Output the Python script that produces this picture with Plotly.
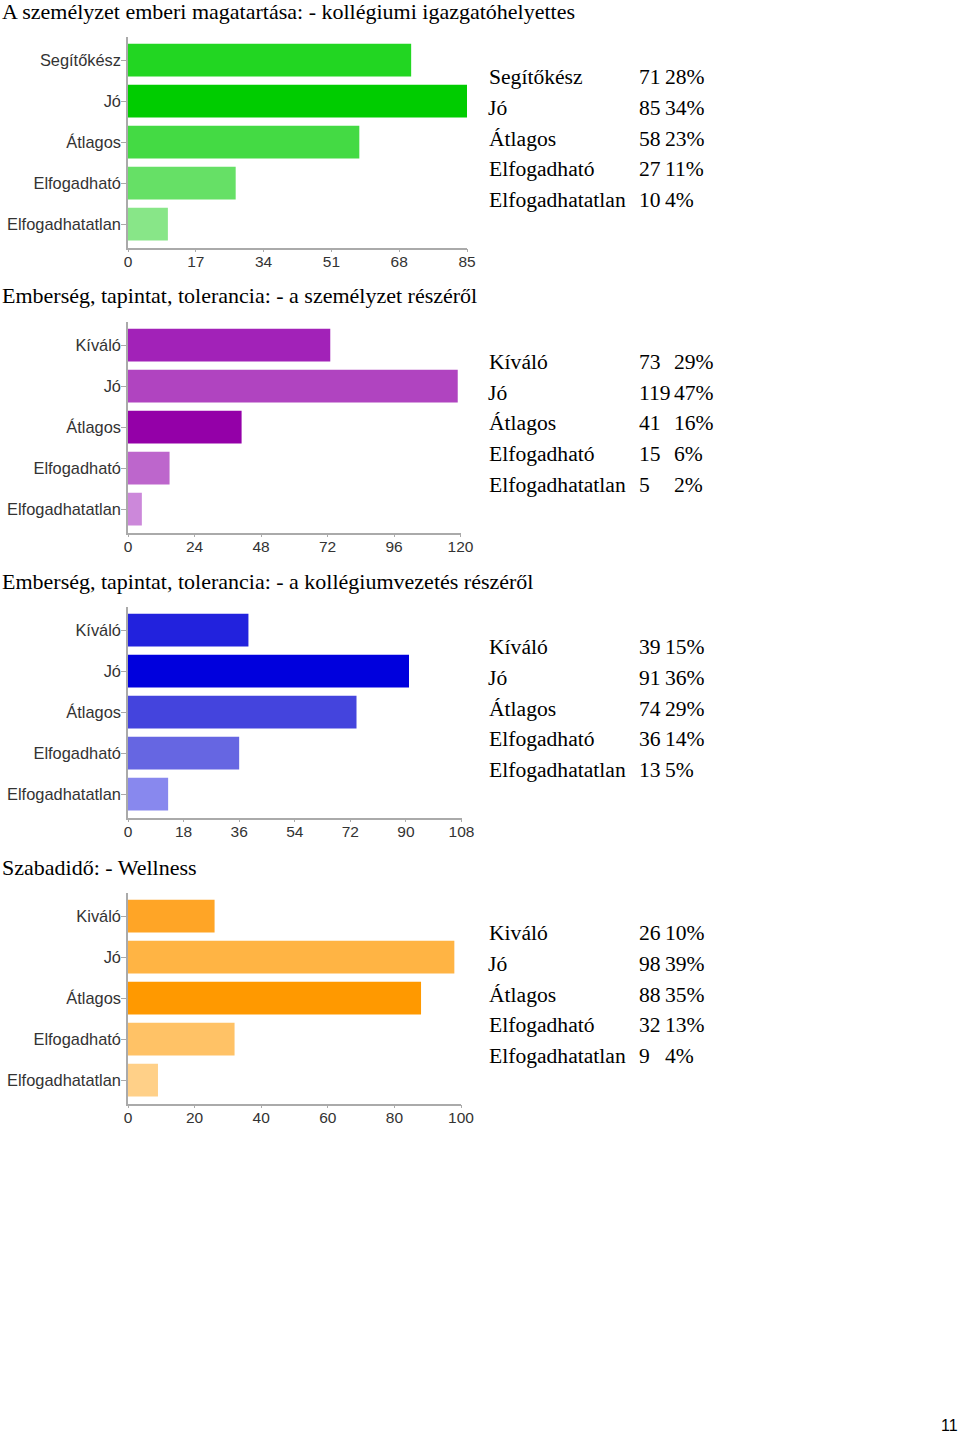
import plotly.graph_objects as go

W, H = 960, 1433

# ---------------- data ----------------
titles = [
    "A személyzet emberi magatartása: - kollégiumi igazgatóhelyettes",
    "Emberség, tapintat, tolerancia: - a személyzet részéről",
    "Emberség, tapintat, tolerancia: - a kollégiumvezetés részéről",
    "Szabadidő: - Wellness",
]
cats1 = ["Segítőkész", "Jó", "Átlagos", "Elfogadható", "Elfogadhatatlan"]
cats2 = ["Kíváló", "Jó", "Átlagos", "Elfogadható", "Elfogadhatatlan"]
cats3 = ["Kíváló", "Jó", "Átlagos", "Elfogadható", "Elfogadhatatlan"]
cats4 = ["Kiváló", "Jó", "Átlagos", "Elfogadható", "Elfogadhatatlan"]

vals1 = [71, 85, 58, 27, 10]
vals2 = [73, 119, 41, 15, 5]
vals3 = [39, 91, 74, 36, 13]
vals4 = [26, 98, 88, 32, 9]

pct1 = ["28%", "34%", "23%", "11%", "4%"]
pct2 = ["29%", "47%", "16%", "6%", "2%"]
pct3 = ["15%", "36%", "29%", "14%", "5%"]
pct4 = ["10%", "39%", "35%", "13%", "4%"]

ticks1 = [0, 17, 34, 51, 68, 85]
ticks2 = [0, 24, 48, 72, 96, 120]
ticks3 = [0, 18, 36, 54, 72, 90, 108]
ticks4 = [0, 20, 40, 60, 80, 100]

page_number = "11"

# ---------------- style ----------------
colors1 = ["#22d622", "#00cc00", "#44da44", "#66e066", "#88e688"]
colors2 = ["#a222b8", "#b044c0", "#9400a8", "#bd66cc", "#cc88da"]
colors3 = ["#2222dd", "#0000dd", "#4444dd", "#6666e2", "#8888ee"]
colors4 = ["#ffa526", "#ffb444", "#ff9900", "#ffc266", "#ffd088"]

panels = [
    dict(cats=cats1, vals=vals1, pct=pct1, ticks=ticks1, colors=colors1, off=0, xend=467, pctx=666),
    dict(cats=cats2, vals=vals2, pct=pct2, ticks=ticks2, colors=colors2, off=285, xend=460.5, pctx=675),
    dict(cats=cats3, vals=vals3, pct=pct3, ticks=ticks3, colors=colors3, off=570, xend=461.5, pctx=666),
    dict(cats=cats4, vals=vals4, pct=pct4, ticks=ticks4, colors=colors4, off=856, xend=461, pctx=666),
]

sans = "Liberation Sans, Arial, sans-serif"
serif = "Liberation Serif, Times New Roman, serif"

fig = go.Figure()
annotations = []
layout_axes = {}
pad_cat = 3 / 41.0

for i, p in enumerate(panels):
    n = i + 1
    xa = "x" if n == 1 else f"x{n}"
    ya = "y" if n == 1 else f"y{n}"
    fig.add_trace(go.Bar(
        x=p["vals"], y=p["cats"], orientation="h",
        marker=dict(color=p["colors"], line=dict(width=0)),
        xaxis=xa, yaxis=ya, showlegend=False, hoverinfo="x+y",
    ))
    off = p["off"]
    top = off + 36.7
    bot = off + 247.5
    layout_axes["xaxis" if n == 1 else f"xaxis{n}"] = dict(
        domain=[128 / W, p["xend"] / W],
        range=[0, p["ticks"][-1]],
        anchor=ya,
        tickmode="array", tickvals=p["ticks"],
        ticks="outside", ticklen=3, tickcolor="#aaaaaa",
        ticklabelstandoff=-4,
        showline=True, linecolor="#aaaaaa", linewidth=1.5,
        showgrid=False, zeroline=False, automargin=False,
        tickfont=dict(family=sans, size=15.5, color="#333333"),
        fixedrange=True,
    )
    layout_axes["yaxis" if n == 1 else f"yaxis{n}"] = dict(
        domain=[1 - bot / H, 1 - top / H],
        anchor=xa,
        type="category",
        categoryorder="array", categoryarray=p["cats"],
        range=[len(p["cats"]) - 0.5 + pad_cat, -0.5 - pad_cat],
        ticks="outside", ticklen=5, tickcolor="#aaaaaa",
        ticklabelstandoff=-3,
        showline=True, linecolor="#aaaaaa", linewidth=1.5,
        showgrid=False, zeroline=False, automargin=False,
        tickfont=dict(family=sans, size=16.4, color="#333333"),
        fixedrange=True,
    )
    # panel title
    annotations.append(dict(
        text=titles[i], xref="paper", yref="paper",
        x=0, y=1 - (off + 11) / H, xanchor="left", yanchor="middle",
        showarrow=False, font=dict(family=serif, size=22, color="#000000"),
    ))
    # table on the right
    for r, (c, v, pc) in enumerate(zip(p["cats"], p["vals"], p["pct"])):
        yy = 1 - (off + 77 + r * 30.75) / H
        annotations.append(dict(
            text=c, xref="paper", yref="paper", x=486.5 / W, y=yy,
            xanchor="left", yanchor="middle", showarrow=False,
            font=dict(family=serif, size=21.6, color="#000000"),
        ))
        annotations.append(dict(
            text=str(v), xref="paper", yref="paper", x=636.5 / W, y=yy,
            xanchor="left", yanchor="middle", showarrow=False,
            font=dict(family=serif, size=21.6, color="#000000"),
        ))
        annotations.append(dict(
            text=pc, xref="paper", yref="paper", x=(p["pctx"] - 3) / W, y=yy,
            xanchor="left", yanchor="middle", showarrow=False,
            font=dict(family=serif, size=21.6, color="#000000"),
        ))

annotations.append(dict(
    text=page_number, xref="paper", yref="paper", x=960 / W, y=1 - 1425 / H,
    xanchor="right", yanchor="middle", showarrow=False,
    font=dict(family=sans, size=16, color="#000000"),
))

fig.update_layout(
    template="none",
    width=W, height=H,
    margin=dict(l=0, r=0, t=0, b=0, pad=0, autoexpand=False),
    paper_bgcolor="white", plot_bgcolor="white",
    bargap=0.2,
    annotations=annotations,
    **layout_axes,
)

fig.write_html(
    "out.html",
    config={"displayModeBar": False},
    post_script="document.body.style.margin='0';document.body.style.overflow='hidden';",
)
